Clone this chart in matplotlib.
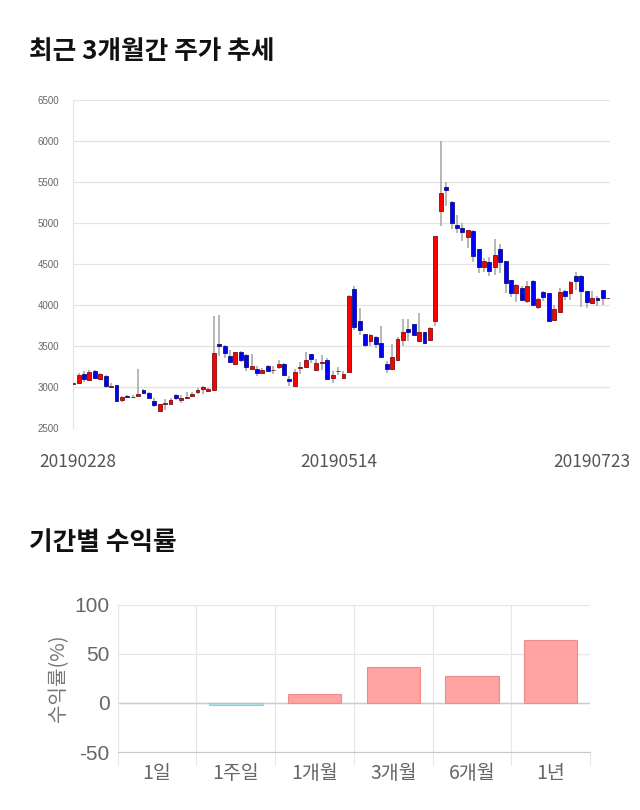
import numpy as np
import matplotlib
matplotlib.use("Agg")
import matplotlib.pyplot as plt
from matplotlib.transforms import ScaledTranslation

plt.rcParams['font.family'] = ['Noto Sans CJK KR', 'DejaVu Sans']

# daily candles 20190228 .. 20190723
opens = [3035, 3050, 3160, 3085, 3195, 3095, 3135, 3000, 3025, 2840,
         2885, 2875, 2895, 2960, 2930, 2835, 2710, 2790, 2795, 2900,
         2840, 2870, 2885, 2935, 2975, 2950, 2965, 3525, 3495, 3380,
         3275, 3425, 3390, 3225, 3215, 3175, 3255, 3205, 3240, 3275,
         3100, 3015, 3230, 3245, 3400, 3210, 3295, 3335, 3105, 3195,
         3105, 3180, 4195, 3810, 3645, 3560, 3615, 3535, 3285, 3220,
         3330, 3575, 3705, 3765, 3555, 3665, 3575, 3800, 5150, 5435,
         5250, 4970, 4940, 4830, 4900, 4680, 4465, 4530, 4465, 4685,
         4535, 4305, 4150, 4205, 4045, 4290, 3970, 4155, 4145, 3815,
         3915, 4165, 4145, 4355, 4355, 4170, 4025, 4085, 4180, 4085]
closes = [3050, 3150, 3100, 3180, 3105, 3160, 3010, 3010, 2830, 2880,
          2880, 2880, 2920, 2925, 2870, 2785, 2790, 2800, 2840, 2860,
          2870, 2880, 2920, 2965, 2995, 2980, 3420, 3505, 3420, 3310,
          3425, 3330, 3240, 3255, 3175, 3205, 3200, 3210, 3280, 3150,
          3075, 3185, 3245, 3335, 3340, 3290, 3300, 3100, 3150, 3200,
          3160, 4105, 3730, 3700, 3510, 3635, 3530, 3360, 3225, 3370,
          3585, 3675, 3675, 3635, 3670, 3540, 3725, 4840, 5360, 5400,
          5005, 4935, 4895, 4915, 4600, 4465, 4535, 4420, 4610, 4530,
          4265, 4150, 4245, 4065, 4230, 4005, 4075, 4100, 3800, 3945,
          4160, 4105, 4280, 4290, 4175, 4040, 4090, 4055, 4085, 4085]
highs = [3055, 3165, 3195, 3205, 3210, 3165, 3145, 3045, 3030, 2895,
         2900, 2900, 3220, 2970, 2945, 2860, 2795, 2850, 2860, 2910,
         2900, 2940, 2945, 2990, 3010, 2985, 3870, 3880, 3515, 3450,
         3430, 3435, 3400, 3400, 3250, 3230, 3270, 3250, 3330, 3290,
         3140, 3220, 3310, 3425, 3405, 3340, 3385, 3355, 3190, 3240,
         3190, 4125, 4230, 3965, 3650, 3650, 3625, 3740, 3315, 3530,
         3615, 3825, 3825, 3770, 3905, 3670, 3735, 4845, 6000, 5495,
         5270, 5100, 5005, 4920, 4910, 4685, 4575, 4590, 4800, 4745,
         4540, 4310, 4260, 4230, 4295, 4310, 4085, 4165, 4150, 4005,
         4205, 4185, 4290, 4400, 4360, 4175, 4165, 4105, 4185, 4085]
lows = [3030, 3040, 3060, 3075, 3100, 3085, 2985, 2995, 2815, 2815,
        2865, 2860, 2890, 2915, 2860, 2760, 2700, 2720, 2780, 2840,
        2800, 2855, 2880, 2915, 2915, 2940, 2960, 3380, 3355, 3300,
        3270, 3310, 3195, 3205, 3140, 3165, 3190, 3155, 3225, 3130,
        3010, 3010, 3160, 3240, 3295, 3190, 3210, 3090, 3050, 3150,
        3100, 3165, 3700, 3640, 3490, 3495, 3475, 3355, 3170, 3210,
        3320, 3500, 3560, 3630, 3545, 3525, 3560, 3740, 4965, 5210,
        4925, 4875, 4780, 4690, 4530, 4385, 4405, 4355, 4360, 4395,
        4150, 4100, 4040, 4045, 4030, 3990, 3945, 4045, 3800, 3800,
        3900, 4065, 4055, 4180, 3975, 3965, 4015, 3990, 4005, 4085]
date_ticks = [0, 50, 99]
date_labels = ['20190228', '20190514', '20190723']
price_ticks = [2500, 3000, 3500, 4000, 4500, 5000, 5500, 6000, 6500]

periods = ['1일', '1주일', '1개월', '3개월', '6개월', '1년']
returns = [0.0, -2.5, 9.0, 37.0, 27.5, 64.5]

fig = plt.figure(figsize=(6.4, 8.1), dpi=100)

# ---- candle chart
ax = fig.add_axes([0.114, 0.4716, 0.839, 0.405])
o = np.array(opens); c = np.array(closes)
h = np.array(highs); l = np.array(lows)
x = np.arange(len(o))
up = c >= o
ax.vlines(x, l, h, color='#aaaaaa', lw=1.2, zorder=2)
bottom = np.minimum(o, c)
height = np.maximum(np.abs(c - o), 6)
ax.bar(x[up], height[up], bottom=bottom[up], width=0.72,
       color='#ff0000', edgecolor='#7a1010', lw=0.6, zorder=3)
ax.bar(x[~up], height[~up], bottom=bottom[~up], width=0.72,
       color='#0000ff', edgecolor='#10107a', lw=0.6, zorder=3)
ax.set_xlim(-0.05, 99.3)
ax.set_ylim(2500, 6500)
ax.set_yticks(price_ticks)
ax.set_yticklabels([str(p) for p in price_ticks], family='Liberation Sans',
                   fontsize=7, color='#666666')
ax.set_xticks(date_ticks)
ax.set_xticklabels(date_labels, fontsize=12.5, color='#555555')
ax.tick_params(axis='both', length=0)
ax.tick_params(axis='y', pad=10)
ax.tick_params(axis='x', pad=18)
ax.grid(axis='y', color='#e3e3e3', lw=0.9, zorder=0)
for s in ['top', 'right', 'bottom']:
    ax.spines[s].set_visible(False)
ax.spines['left'].set_color('#e3e3e3')
ax.set_axisbelow(True)
shifts = [5, -5, -16]
for lab, dx in zip(ax.get_xticklabels(), shifts):
    lab.set_transform(lab.get_transform() + ScaledTranslation(dx / 100, 0, fig.dpi_scale_trans))

fig.text(0.045, 0.937, '최근 3개월간 주가 추세', fontsize=18.5, fontweight='bold',
         color='#111111', va='center')
fig.text(0.045, 0.330, '기간별 수익률', fontsize=18.5, fontweight='bold',
         color='#111111', va='center')

# ---- returns chart
ax2 = fig.add_axes([0.184, 0.0716, 0.738, 0.1815])
bx = np.arange(len(periods))
cols = ['#ffa3a3' if v >= 0 else '#b3e3ea' for v in returns]
edges = ['none' if v == 0 else ('#f08a8a' if v > 0 else '#8fd0da') for v in returns]
ax2.bar(bx, returns, width=0.68, color=cols, edgecolor=edges, lw=0.8, zorder=3)
ax2.set_xlim(-0.5, len(periods) - 0.5)
ax2.set_ylim(-50, 100)
ax2.set_yticks([-50, 0, 50, 100])
ax2.set_yticklabels(['-50', '0', '50', '100'], family='Liberation Sans',
                    fontsize=15, color='#666666')
ax2.set_xticks(bx)
ax2.set_xticklabels(periods, fontsize=14, color='#666666')
ax2.set_xticks(np.arange(len(periods) + 1) - 0.5, minor=True)
ax2.tick_params(axis='x', which='major', length=0, pad=8)
ax2.tick_params(axis='x', which='minor', length=9, color='#e6e6e6', width=0.8)
ax2.tick_params(axis='y', length=0, pad=6)
ax2.grid(axis='y', color='#e6e6e6', lw=0.9, zorder=0)
ax2.grid(axis='x', which='minor', color='#e6e6e6', lw=0.8, zorder=0)
ax2.axhline(0, color='#cccccc', lw=1.0, zorder=2)
for s in ['top', 'right']:
    ax2.spines[s].set_visible(False)
ax2.spines['left'].set_color('#e6e6e6')
ax2.spines['bottom'].set_color('#c8c8c8')
ax2.set_ylabel('수익률(%)', fontsize=14.5, color='#777777', labelpad=4)

fig.savefig('out.png', dpi=100)
